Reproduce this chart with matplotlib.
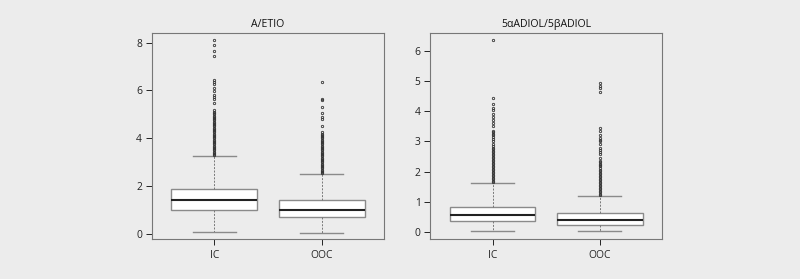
import matplotlib.pyplot as plt

plt.rcParams['font.family'] = ['Open Sans', 'DejaVu Sans']

groups = ['IC', 'OOC']

# A/ETIO box statistics: q1, median, q3, lower whisker, upper whisker
aetio_ic = dict(q1=1.02, med=1.41, q3=1.90, whislo=0.11, whishi=3.26)
aetio_ooc = dict(q1=0.71, med=1.03, q3=1.42, whislo=0.07, whishi=2.52)
aetio_ic_out = [3.30, 3.35, 3.40, 3.45, 3.50, 3.55, 3.60, 3.65, 3.70, 3.75,
                3.80, 3.85, 3.90, 3.95, 4.00, 4.05, 4.10, 4.15, 4.20, 4.25,
                4.30, 4.35, 4.40, 4.45, 4.50, 4.55, 4.60, 4.65, 4.70, 4.75,
                4.80, 4.85, 4.90, 4.95, 5.00, 5.05, 5.10, 5.17, 5.46, 5.64,
                5.73, 5.80, 5.96, 6.11, 6.26, 6.35, 6.42, 7.46, 7.64, 7.89,
                8.11]
aetio_ooc_out = [2.55, 2.60, 2.65, 2.70, 2.75, 2.80, 2.85, 2.90, 2.95, 3.00,
                 3.05, 3.10, 3.15, 3.20, 3.25, 3.30, 3.35, 3.40, 3.45, 3.50,
                 3.55, 3.60, 3.65, 3.70, 3.75, 3.80, 3.85, 3.90, 3.95, 4.00,
                 4.05, 4.10, 4.15, 4.20, 4.26, 4.50, 4.80, 4.90, 5.04, 5.32,
                 5.62, 5.66, 6.34]

# 5aADIOL/5bADIOL box statistics
adiol_ic = dict(q1=0.36, med=0.56, q3=0.85, whislo=0.03, whishi=1.64)
adiol_ooc = dict(q1=0.24, med=0.40, q3=0.63, whislo=0.03, whishi=1.20)
adiol_ic_out = [1.65, 1.70, 1.75, 1.80, 1.85, 1.90, 1.95, 2.00, 2.05, 2.10,
                2.15, 2.20, 2.25, 2.30, 2.35, 2.40, 2.45, 2.50, 2.55, 2.60,
                2.65, 2.70, 2.75, 2.80, 2.85, 2.92, 3.00, 3.08, 3.15, 3.20,
                3.25, 3.30, 3.35, 3.50, 3.60, 3.70, 3.80, 3.90, 4.04, 4.12,
                4.22, 4.43, 6.35]
adiol_ooc_out = [1.22, 1.27, 1.32, 1.37, 1.42, 1.47, 1.52, 1.57, 1.62, 1.67,
                 1.72, 1.77, 1.82, 1.87, 1.92, 1.97, 2.02, 2.07, 2.12, 2.18,
                 2.22, 2.27, 2.32, 2.37, 2.45, 2.60, 2.65, 2.72, 2.80, 2.90,
                 3.00, 3.05, 3.12, 3.20, 3.35, 3.45, 4.64, 4.75, 4.84, 4.93]

panels = [
    ('A/ETIO', [aetio_ic, aetio_ooc], [aetio_ic_out, aetio_ooc_out],
     (-0.2, 8.4), [0, 2, 4, 6, 8], [0.19, 0.1434, 0.29, 0.7383]),
    ('5\u03b1ADIOL/5\u03b2ADIOL', [adiol_ic, adiol_ooc],
     [adiol_ic_out, adiol_ooc_out],
     (-0.22, 6.58), [0, 1, 2, 3, 4, 5, 6], [0.538, 0.1434, 0.2895, 0.7383]),
]

bg = '#ececec'
fig = plt.figure(figsize=(8, 2.79), dpi=100, facecolor=bg)

for title, boxes, outs, ylim, yticks, rect in panels:
    ax = fig.add_axes(rect)
    ax.set_facecolor(bg)
    stats = []
    for name, b, o in zip(groups, boxes, outs):
        s = dict(b)
        s['label'] = name
        s['fliers'] = o
        stats.append(s)
    ax.bxp(stats, positions=[1, 2], widths=0.8, capwidths=0.4,
           patch_artist=True,
           boxprops=dict(facecolor='white', edgecolor='#8a8a8a', linewidth=1.0),
           medianprops=dict(color='#222222', linewidth=1.5),
           whiskerprops=dict(color='#777777', linewidth=0.7, linestyle=(0, (2, 1.5))),
           capprops=dict(color='#8a8a8a', linewidth=1.0),
           flierprops=dict(marker='o', markersize=1.7, markerfacecolor='none',
                           markeredgecolor='#333333', markeredgewidth=0.6))
    ax.set_xlim(0.42, 2.58)
    ax.set_ylim(*ylim)
    ax.set_yticks(yticks)
    ax.set_xticks([1, 2])
    ax.set_xticklabels(groups)
    for sp in ax.spines.values():
        sp.set_color('#777777')
        sp.set_linewidth(0.8)
    ax.tick_params(axis='both', labelsize=7.4, colors='#222222', length=4.3,
                   width=0.7, direction='out')
    ax.tick_params(axis='x', pad=3.6)
    ax.tick_params(axis='y', pad=2.8)
    ax.set_title(title, fontsize=7.6, color='#111111', pad=4)

fig.savefig('out.png', dpi=100, facecolor=bg)
